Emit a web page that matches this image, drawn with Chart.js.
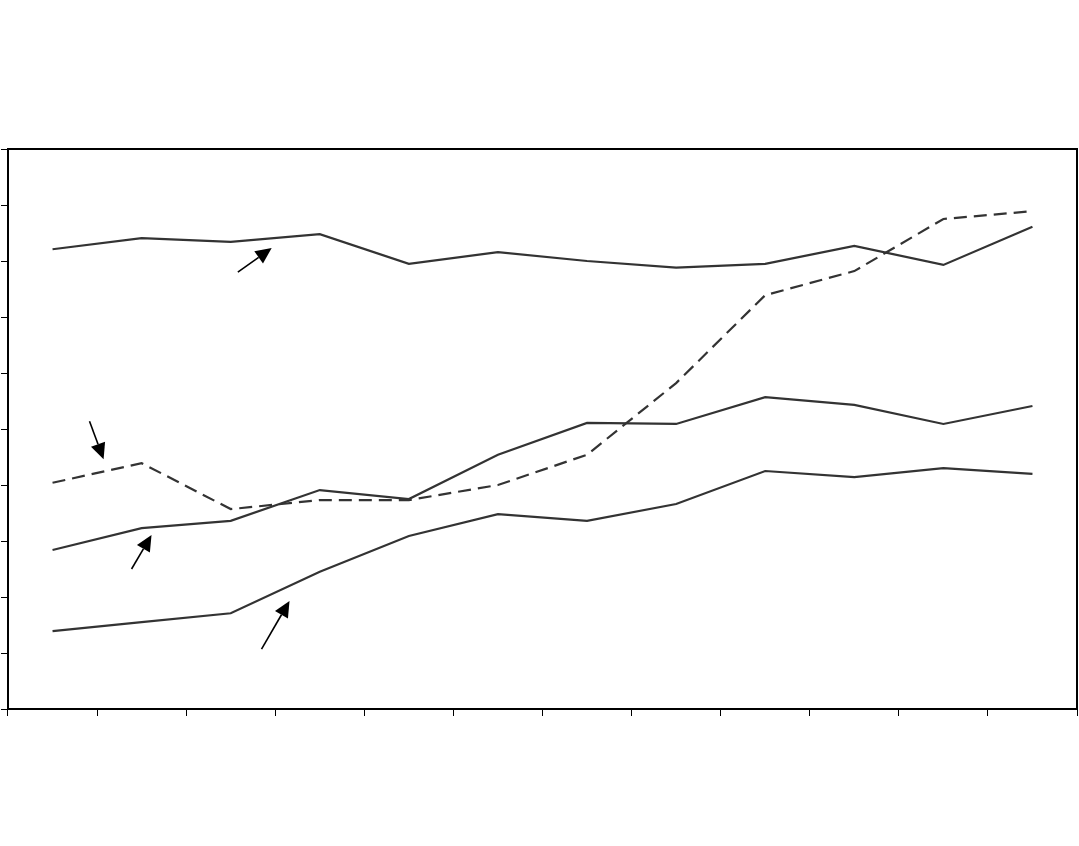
<!DOCTYPE html>
<html>
<head>
<meta charset="utf-8">
<script src="https://cdn.jsdelivr.net/npm/chart.js@4/dist/chart.umd.min.js"></script>
<style>
html,body{margin:0;padding:0;background:#fff;}
#wrap{width:1079px;height:846px;position:relative;}
</style>
</head>
<body>
<div id="wrap"><canvas id="c" width="1079" height="846"></canvas></div>
<script>
// Categories (unlabelled in the reference)
const categories = ['1','2','3','4','5','6','7','8','9','10','11','12'];
// Series values (y scale 0..10)
const seriesTop    = [8.21, 8.41, 8.34, 8.48, 7.95, 8.16, 8.00, 7.88, 7.95, 8.27, 7.93, 8.61];
const seriesDashed = [4.04, 4.39, 3.57, 3.73, 3.73, 4.00, 4.54, 5.82, 7.39, 7.82, 8.75, 8.89];
const seriesMiddle = [2.84, 3.23, 3.36, 3.91, 3.75, 4.54, 5.11, 5.09, 5.57, 5.43, 5.09, 5.41];
const seriesBottom = [1.39, 1.55, 1.71, 2.45, 3.09, 3.48, 3.36, 3.66, 4.25, 4.14, 4.30, 4.20];
// Y axis range (no labels shown)
const yMin = 0, yMax = 10, yStep = 1;
// Annotation arrows in data space: [fromIndex, fromValue, toIndex, toValue]
const arrows = [
  [2.08, 7.80, 2.46, 8.23],
  [0.415, 5.14, 0.573, 4.46],
  [0.887, 2.50, 1.111, 3.107],
  [2.346, 1.07, 2.66, 1.93]
];

const lineColor = '#333333';

const framePlugin = {
  id: 'frame',
  afterDraw(chart) {
    const {ctx, chartArea: a, scales} = chart;
    ctx.save();
    ctx.strokeStyle = '#000';
    ctx.lineWidth = 2;
    ctx.strokeRect(a.left, a.top, a.right - a.left, a.bottom - a.top);
    ctx.strokeStyle = '#000';
    ctx.fillStyle = '#000';
    ctx.lineWidth = 1.6;
    arrows.forEach(([x0, v0, x1, v1]) => {
      const px0 = scales.x.getPixelForValue(x0), py0 = scales.y.getPixelForValue(v0);
      const px1 = scales.x.getPixelForValue(x1), py1 = scales.y.getPixelForValue(v1);
      const ang = Math.atan2(py1 - py0, px1 - px0);
      const hl = 16, hw = 7.5;
      const bx = px1 - hl * Math.cos(ang), by = py1 - hl * Math.sin(ang);
      ctx.beginPath();
      ctx.moveTo(px0, py0);
      ctx.lineTo(bx, by);
      ctx.stroke();
      ctx.beginPath();
      ctx.moveTo(px1, py1);
      ctx.lineTo(bx + hw * Math.sin(ang), by - hw * Math.cos(ang));
      ctx.lineTo(bx - hw * Math.sin(ang), by + hw * Math.cos(ang));
      ctx.closePath();
      ctx.fill();
    });
    ctx.restore();
  }
};

function ds(data, dashed) {
  return {
    data: data,
    borderColor: lineColor,
    borderWidth: 2.2,
    borderDash: dashed ? [13, 7] : [],
    pointRadius: 0,
    fill: false,
    tension: 0
  };
}

new Chart(document.getElementById('c'), {
  type: 'line',
  data: {
    labels: categories,
    datasets: [ds(seriesTop, false), ds(seriesDashed, true), ds(seriesMiddle, false), ds(seriesBottom, false)]
  },
  options: {
    responsive: false,
    animation: false,
    devicePixelRatio: 1,
    layout: {padding: {top: 149, right: 2, left: 0, bottom: 0}},
    plugins: {legend: {display: false}, tooltip: {enabled: false}, title: {display: false}},
    scales: {
      x: {
        type: 'category',
        offset: true,
        grid: {display: true, offset: true, drawOnChartArea: false, drawTicks: true, tickLength: 7, color: '#000', lineWidth: 1},
        border: {display: true, color: '#000', width: 2},
        ticks: {display: false},
        afterFit(s) { s.height = 137; }
      },
      y: {
        min: yMin, max: yMax,
        grid: {display: true, drawOnChartArea: false, drawTicks: true, tickLength: 7, color: '#000', lineWidth: 1},
        border: {display: true, color: '#000', width: 2},
        ticks: {display: false, stepSize: yStep},
        afterFit(s) { s.width = 8; }
      }
    }
  },
  plugins: [framePlugin]
});
</script>
</body>
</html>
